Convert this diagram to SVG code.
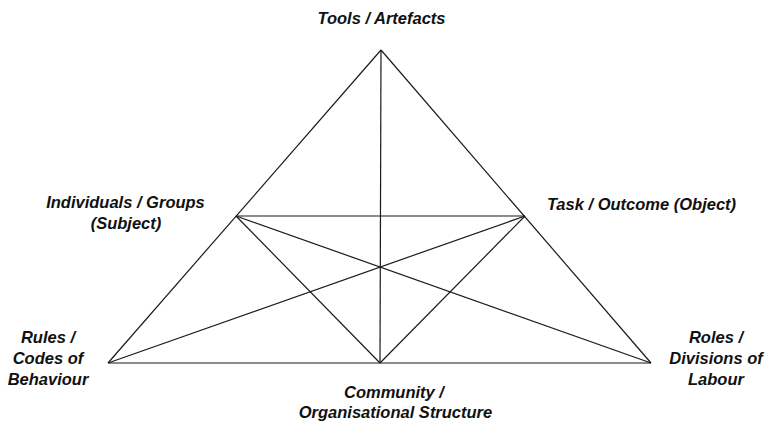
<svg xmlns="http://www.w3.org/2000/svg" width="766" height="422" viewBox="0 0 766 422">
<style>
.l{stroke:#1a1a1a;stroke-width:1.2;fill:none}
text{font-family:"Liberation Sans",Arial,sans-serif;font-style:italic;font-weight:bold;font-size:16.5px;fill:#111;text-anchor:middle}
</style>
<rect width="766" height="422" fill="#fff"/>
<g id="connectors">
<line class="l" x1="381" y1="50" x2="108" y2="363"/>
<line class="l" x1="381" y1="50" x2="651" y2="363"/>
<line class="l" x1="108" y1="363" x2="651" y2="363"/>
<line class="l" x1="381" y1="50" x2="380" y2="363"/>
<line class="l" x1="236" y1="216" x2="525" y2="216"/>
<line class="l" x1="236" y1="216" x2="380" y2="363"/>
<line class="l" x1="525" y1="216" x2="380" y2="363"/>
<line class="l" x1="236" y1="216" x2="651" y2="363"/>
<line class="l" x1="525" y1="216" x2="108" y2="363"/>
</g>
<g id="tools"><text x="381.5" y="24">Tools / Artefacts</text></g>
<g id="subject"><text x="125.5" y="208">Individuals / Groups</text><text x="126" y="229">(Subject)</text></g>
<g id="object"><text x="641.5" y="210">Task / Outcome (Object)</text></g>
<g id="rules"><text x="48" y="343">Rules /</text><text x="48" y="364">Codes of</text><text x="48" y="385">Behaviour</text></g>
<g id="roles"><text x="716" y="343">Roles /</text><text x="716" y="364">Divisions of</text><text x="716" y="385">Labour</text></g>
<g id="community"><text x="394" y="398">Community /</text><text x="395.5" y="417.5">Organisational Structure</text></g>
</svg>
